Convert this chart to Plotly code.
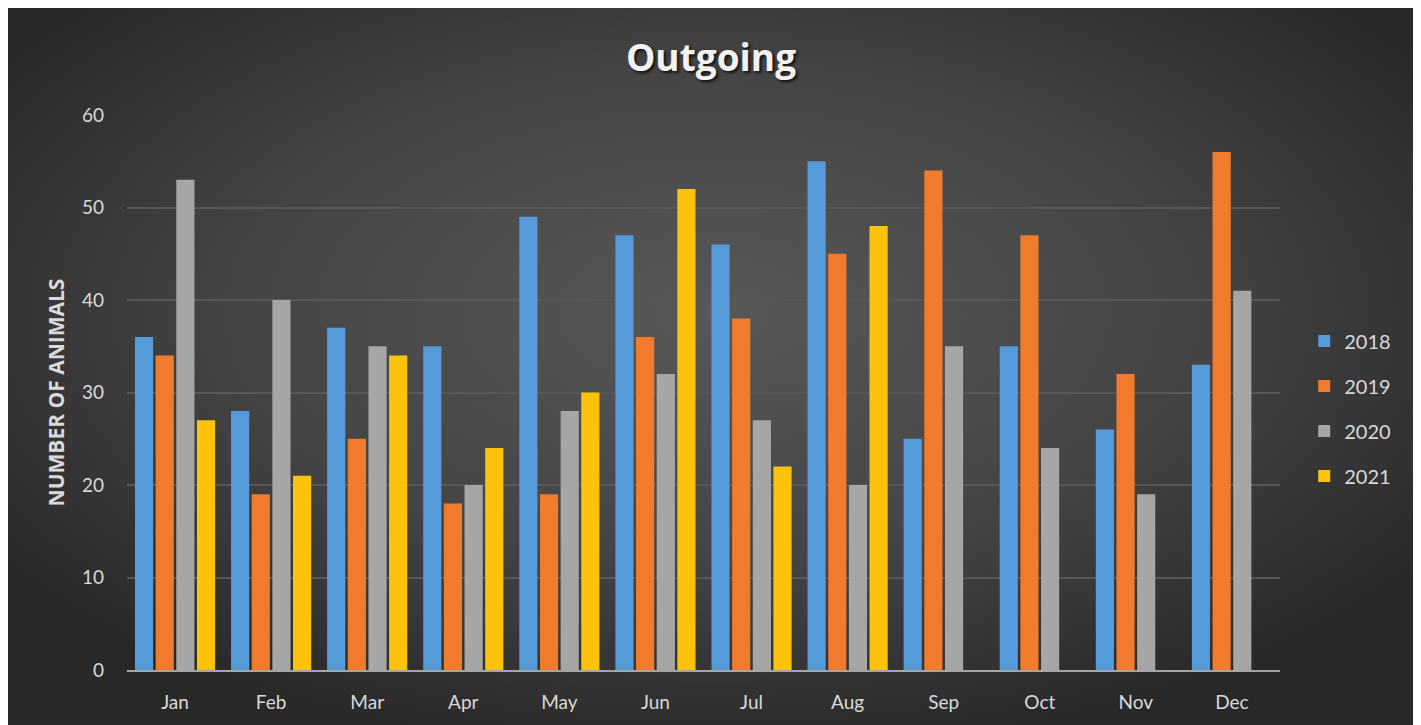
import base64
import plotly.graph_objects as go

months = ["Jan", "Feb", "Mar", "Apr", "May", "Jun", "Jul", "Aug", "Sep", "Oct", "Nov", "Dec"]
years = ["2018", "2019", "2020", "2021"]
outgoing_2018 = [36, 28, 37, 35, 49, 47, 46, 55, 25, 35, 26, 33]
outgoing_2019 = [34, 19, 25, 18, 19, 36, 38, 45, 54, 47, 32, 56]
outgoing_2020 = [53, 40, 35, 20, 28, 32, 27, 20, 35, 24, 19, 41]
outgoing_2021 = [27, 21, 34, 24, 30, 52, 22, 48, None, None, None, None]
colors = ["#559bd9", "#f07b2c", "#a6a6a6", "#fdc20a"]

# page has an 8px body margin, so the figure starts at (8, 8)
W, H = 1409, 725
L, R, T, B = 119, 137, 107, 63

# radial dark background as svg data uri
svg = (
    '<svg xmlns="http://www.w3.org/2000/svg" width="1409" height="725">'
    '<defs><radialGradient id="g" cx="0.5" cy="0.42" r="0.62">'
    '<stop offset="0" stop-color="#585858"/>'
    '<stop offset="0.55" stop-color="#444444"/>'
    '<stop offset="1" stop-color="#282828"/>'
    '</radialGradient></defs>'
    '<rect width="1409" height="725" fill="url(#g)"/></svg>'
)
bg = "data:image/svg+xml;base64," + base64.b64encode(svg.encode()).decode()

pw, ph = W - L - R, H - T - B
px0 = -L / pw
px1 = (W - L) / pw
py1 = (H - B) / ph
py0 = -B / ph

fig = go.Figure()
for name, vals, col in zip(years, [outgoing_2018, outgoing_2019, outgoing_2020, outgoing_2021], colors):
    fig.add_trace(go.Bar(
        x=months, y=vals, name=name, legendgroup=name,
        marker=dict(color=col, line=dict(width=0)),
    ))

fig.update_layout(
    width=W, height=H,
    barmode="group", bargap=0.14, bargroupgap=0.12,
    paper_bgcolor="#2b2b2b", plot_bgcolor="rgba(0,0,0,0)",
    margin=dict(l=L, r=R, t=T, b=B),
    font=dict(family="Lato, sans-serif", size=18, color="#d9d9d9"),
    title=dict(
        text="<b>Outgoing</b>", x=(711 - 8) / W, xref="container", xanchor="center",
        y=1 - 50 / H, yref="container", yanchor="middle",
        font=dict(family="Open Sans, sans-serif", size=37, color="#f2f2f2",
                  shadow="2px 2px 3px #111"),
    ),
    legend=dict(
        x=1.021, xanchor="left", y=0.471, yanchor="middle",
        font=dict(size=20, color="#d9d9d9"), tracegroupgap=16,
        bgcolor="rgba(0,0,0,0)", itemwidth=30,
    ),
    images=[dict(
        source=bg, xref="paper", yref="paper",
        x=px0, y=py1, sizex=px1 - px0, sizey=py1 - py0,
        xanchor="left", yanchor="top", sizing="stretch", layer="below",
    )],
    showlegend=True,
)

fig.update_xaxes(
    showgrid=False, showline=True, linecolor="#a6a6a6", linewidth=2,
    ticks="", ticklabelstandoff=14, tickfont=dict(size=19),
)
fig.update_yaxes(
    range=[0, 60], dtick=10, showgrid=True, gridcolor="#575757", gridwidth=1.5,
    zeroline=False, showline=False, ticks="", ticklabelstandoff=22,
    tickfont=dict(size=19),
    title=dict(text="<b>NUMBER OF ANIMALS</b>",
               font=dict(family="Open Sans, sans-serif", size=21, color="#d9d9d9"),
               standoff=11),
)

fig.write_html("out.html")
